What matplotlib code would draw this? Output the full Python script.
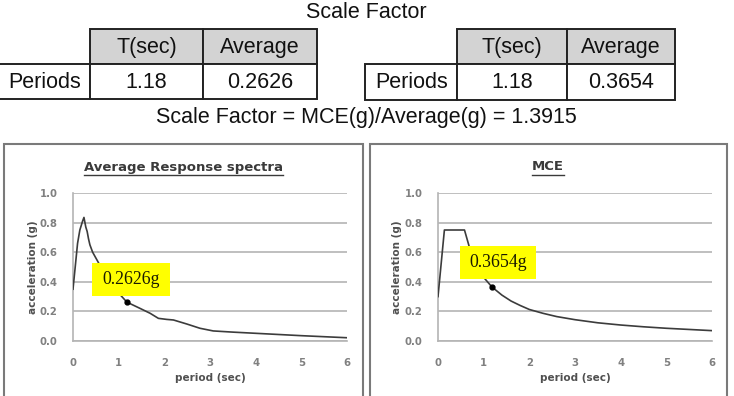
import matplotlib
matplotlib.use("Agg")
import matplotlib.pyplot as plt
from matplotlib.patches import Rectangle
from matplotlib.lines import Line2D

# ---------------- data ----------------
table_col_labels = ["T(sec)", "Average"]
table_row_label = "Periods"
avg_table_values = ["1.18", "0.2626"]
mce_table_values = ["1.18", "0.3654"]
main_title = "Scale Factor"
subtitle = "Scale Factor = MCE(g)/Average(g) = 1.3915"

avg_period = [0, 0.1, 0.15, 0.21, 0.24, 0.28, 0.31, 0.34, 0.37, 0.43, 0.52, 0.7, 0.9,
              1.07, 1.18, 1.3, 1.47, 1.69, 1.87, 2.05, 2.2, 2.49, 2.78, 3.07, 3.5,
              4.0, 4.5, 5.0, 5.5, 6.0]
avg_accel = [0.35, 0.66, 0.75, 0.81, 0.835, 0.77, 0.74, 0.69, 0.65, 0.60, 0.55, 0.45, 0.36,
             0.30, 0.2626, 0.245, 0.22, 0.187, 0.153, 0.146, 0.142, 0.115, 0.086, 0.068, 0.060,
             0.052, 0.044, 0.036, 0.029, 0.022]

mce_period = [0, 0.14, 0.58, 0.7, 0.8, 0.9, 1.0, 1.18, 1.4, 1.6, 1.8, 2.0, 2.3, 2.6,
              3.0, 3.5, 4.0, 4.5, 5.0, 5.5, 6.0]
mce_accel = [0.30, 0.75, 0.75, 0.62, 0.54, 0.48, 0.43, 0.3654, 0.31, 0.27, 0.24, 0.213,
             0.187, 0.165, 0.144, 0.123, 0.108, 0.096, 0.086, 0.078, 0.070]

point_T = 1.18
avg_point = 0.2626
mce_point = 0.3654
avg_label = "0.2626g"
mce_label = "0.3654g"

yticks = [0.0, 0.2, 0.4, 0.6, 0.8, 1.0]
xticks = [0, 1, 2, 3, 4, 5, 6]

# ---------------- figure ----------------
W, H = 734, 396
fig = plt.figure(figsize=(W / 100, H / 100), dpi=100)
fig.patch.set_facecolor("white")
ov = fig.add_axes([0, 0, 1, 1])
ov.set_xlim(0, W)
ov.set_ylim(H, 0)
ov.axis("off")

SANS = ["Liberation Sans", "DejaVu Sans"]
tfs = 15.5

ov.text(366, 12, main_title, ha="center", va="center", fontsize=tfs, family=SANS, color="#111111")
ov.text(366, 117, subtitle, ha="center", va="center", fontsize=tfs, family=SANS, color="#111111")

def draw_table(x0, x1, x2, x3, y0, y1, y2, values):
    lw = 1.4
    ec = "#222222"
    ov.add_patch(Rectangle((x1, y0), x2 - x1, y1 - y0, fc="#d3d3d3", ec=ec, lw=lw))
    ov.add_patch(Rectangle((x2, y0), x3 - x2, y1 - y0, fc="#d3d3d3", ec=ec, lw=lw))
    ov.add_patch(Rectangle((x0, y1), x1 - x0, y2 - y1, fc="white", ec=ec, lw=lw))
    ov.add_patch(Rectangle((x1, y1), x2 - x1, y2 - y1, fc="white", ec=ec, lw=lw))
    ov.add_patch(Rectangle((x2, y1), x3 - x2, y2 - y1, fc="white", ec=ec, lw=lw))
    ov.text((x1 + x2) / 2, (y0 + y1) / 2 + 1, table_col_labels[0], ha="center", va="center", fontsize=tfs, family=SANS, color="#111111")
    ov.text((x2 + x3) / 2, (y0 + y1) / 2 + 1, table_col_labels[1], ha="center", va="center", fontsize=tfs, family=SANS, color="#111111")
    ov.text((x0 + x1) / 2 + 1, (y1 + y2) / 2 + 1, table_row_label, ha="center", va="center", fontsize=tfs, family=SANS, color="#111111")
    ov.text((x1 + x2) / 2, (y1 + y2) / 2 + 1, values[0], ha="center", va="center", fontsize=tfs, family=SANS, color="#111111")
    ov.text((x2 + x3) / 2, (y1 + y2) / 2 + 1, values[1], ha="center", va="center", fontsize=tfs, family=SANS, color="#111111")

draw_table(-2, 90, 203, 317, 29, 64, 99, avg_table_values)
draw_table(365, 457, 567, 675, 29, 64, 100, mce_table_values)

# panel frames
for (a, b) in [(4, 363), (370, 727)]:
    ov.add_patch(Rectangle((a, 143.5), b - a, 270, fc="white", ec="#7a7a7a", lw=1.5, clip_on=False))

def px_axes(x0, y0, x1, y1):
    return fig.add_axes([x0 / W, 1 - y1 / H, (x1 - x0) / W, (y1 - y0) / H])

CH = ["DejaVu Sans"]
grid_c = "#b4b4b4"
tick_c = "#808080"
lab_c = "#505050"

def make_chart(ax, T, S, pval, title, label, box, title_cx, ylab_x):
    ax.set_xlim(0, 6)
    ax.set_ylim(0, 1.0)
    ax.patch.set_alpha(0)
    for s in ["top", "right"]:
        ax.spines[s].set_visible(False)
    for s in ["left", "bottom"]:
        ax.spines[s].set_color(grid_c)
        ax.spines[s].set_linewidth(1.2)
    ax.set_yticks(yticks)
    ax.set_yticklabels([f"{v:.1f}" for v in yticks])
    ax.set_xticks(xticks)
    ax.set_xticklabels([str(v) for v in xticks])
    ax.tick_params(axis="y", length=0, pad=11, labelsize=7.3, labelcolor=tick_c)
    ax.tick_params(axis="x", length=0, pad=12, labelsize=7.3, labelcolor=tick_c)
    for lbl in ax.get_xticklabels() + ax.get_yticklabels():
        lbl.set_family(CH)
        lbl.set_fontweight("bold")
    ax.grid(axis="y", color=grid_c, lw=1.2)
    ax.set_axisbelow(True)
    ax.plot(T, S, color="#3c3c3c", lw=1.2, zorder=3)
    ax.plot([point_T], [pval], "o", color="black", ms=3.5, zorder=4)
    bx0, bx1, by0, by1 = box
    ax.add_patch(Rectangle((bx0, by0), bx1 - bx0, by1 - by0, fc="#ffff00", ec="none", zorder=5))
    ax.text((bx0 + bx1) / 2, (by0 + by1) / 2, label, ha="center", va="center",
            fontsize=12.8, family=["Liberation Serif", "DejaVu Serif"], color="#1a1a00", zorder=6)
    # titles and labels
    t = ov.text(title_cx, 167, title, ha="center", va="center", fontsize=9.5, family=CH,
                fontweight="bold", color="#3a3a3a")
    fig.canvas.draw()
    bb = t.get_window_extent()
    x0 = bb.x0
    x1 = bb.x1
    yl = H - bb.y0 + 1
    ov.add_line(Line2D([x0, x1], [yl, yl], color="#3a3a3a", lw=1.0))
    pos = ax.get_position()
    cx = (pos.x0 + pos.x1) / 2 * W
    ov.text(cx, 378, "period (sec)", ha="center", va="center", fontsize=7.5, family=CH,
            fontweight="bold", color=lab_c)
    ov.text(ylab_x, 267, "acceleration (g)", ha="center", va="center", rotation=90, fontsize=7.5,
            family=CH, fontweight="bold", color=lab_c)

ax1 = px_axes(73, 193, 347, 341)
ax2 = px_axes(438, 193, 712, 341)

make_chart(ax1, avg_period, avg_accel, avg_point, "Average Response spectra", avg_label,
           (0.42, 2.12, 0.305, 0.527), 183.5, 33)
make_chart(ax2, mce_period, mce_accel, mce_point, "MCE", mce_label,
           (0.48, 2.146, 0.419, 0.642), 548, 397)

fig.savefig("out.png", dpi=100, facecolor="white")
